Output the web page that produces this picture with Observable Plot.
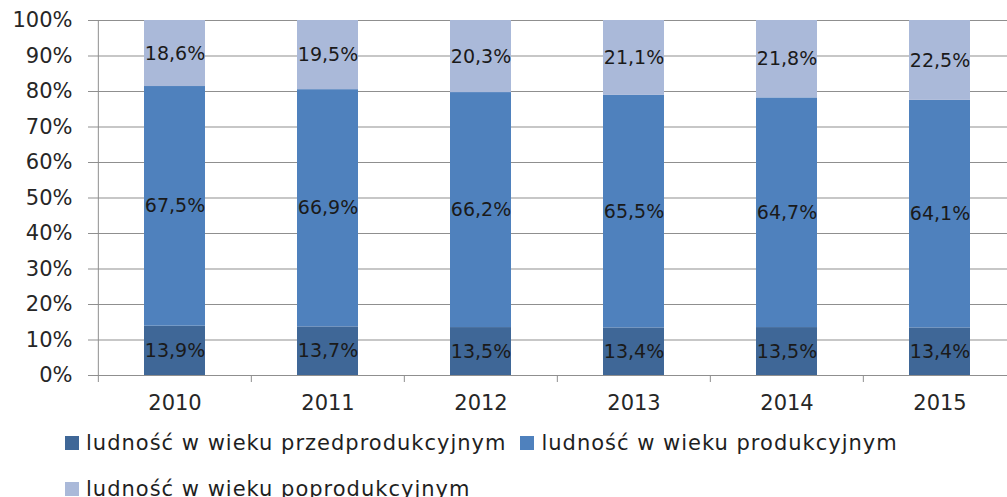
<!DOCTYPE html>
<html>
<head>
<meta charset="utf-8">
<script src="https://cdn.jsdelivr.net/npm/d3@7"></script>
<script src="https://cdn.jsdelivr.net/npm/@observablehq/plot@0.6"></script>
<style>
  html, body { margin: 0; padding: 0; overflow: hidden; background: #fff; width: 1007px; height: 497px; }
  #chart svg { max-width: none !important; display: block; }
  #legend { font-family: "DejaVu Sans", sans-serif; font-size: 21px; letter-spacing: 1px; color: #1f1f1f; padding-left: 65px; width: 900px; display: flex; flex-wrap: wrap; column-gap: 14px; }
  #legend .item { display: flex; align-items: center; height: 46px; }
  #legend .sw { width: 14px; height: 14px; margin-right: 7px; }
</style>
</head>
<body>
<div id="chart"></div>
<div id="legend"></div>
<script>
const years = ["2010", "2011", "2012", "2013", "2014", "2015"];
const seriesNames = ["ludność w wieku przedprodukcyjnym", "ludność w wieku produkcyjnym", "ludność w wieku poprodukcyjnym"];
const preProd = [13.9, 13.7, 13.5, 13.4, 13.5, 13.4];
const prod = [67.5, 66.9, 66.2, 65.5, 64.7, 64.1];
const postProd = [18.6, 19.5, 20.3, 21.1, 21.8, 22.5];
const colors = ["#3f6797", "#4f81bd", "#aab9d9"];
const yTicks = [0, 0.1, 0.2, 0.3, 0.4, 0.5, 0.6, 0.7, 0.8, 0.9, 1];

const seriesValues = [preProd, prod, postProd];
const data = [];
years.forEach((yr, i) => {
  seriesNames.forEach((s, j) => {
    data.push({year: yr, series: s, value: seriesValues[j][i]});
  });
});

const W = 1020, ML = 97, MR = 3;
const step = (W - ML - MR) / years.length;
const fmt = v => v.toFixed(1).replace(".", ",") + "%";
const font = "DejaVu Sans";

const chart = Plot.plot({
  width: W,
  height: 420,
  marginLeft: ML,
  marginRight: MR,
  marginTop: 20,
  marginBottom: 45,
  style: {fontFamily: font, background: "transparent", maxWidth: "none"},
  x: {type: "band", domain: years, paddingInner: 0.6, paddingOuter: 0.3, axis: null},
  y: {domain: [0, 1], axis: null},
  color: {domain: seriesNames, range: colors},
  marks: [
    Plot.gridY(yTicks, {stroke: "#8f8f8f", strokeOpacity: 1, strokeWidth: 1}),
    Plot.axisY(yTicks, {tickFormat: d3.format(".0%"), tickSize: 9, tickPadding: 16, fontSize: 21, stroke: "#8f8f8f", fill: "#262626", label: null}),
    Plot.barY(data, {x: "year", y: "value", fill: "series", order: seriesNames, offset: "normalize"}),
    Plot.text(data, Plot.stackY({x: "year", y: "value", z: "series", order: seriesNames, offset: "normalize", text: d => fmt(d.value), fontSize: 19, letterSpacing: 1, fill: "#1a1a1a"})),
    Plot.ruleY([0], {stroke: "#8f8f8f"}),
    Plot.ruleX([years[0]], {dx: -step / 2, stroke: "#8f8f8f"}),
    Plot.axisX(years, {tickSize: 7, tickFormat: () => "", dx: -step / 2, stroke: "#8f8f8f", label: null}),
    Plot.axisX(years, {tickSize: 0, tickPadding: 20, fontSize: 21, letterSpacing: 2, fill: "#262626", label: null})
  ]
});
document.getElementById("chart").appendChild(chart);

const legend = document.getElementById("legend");
seriesNames.forEach((s, j) => {
  const item = document.createElement("div");
  item.className = "item";
  const sw = document.createElement("span");
  sw.className = "sw";
  sw.style.background = colors[j];
  const t = document.createElement("span");
  t.textContent = s;
  item.appendChild(sw);
  item.appendChild(t);
  legend.appendChild(item);
});
</script>
</body>
</html>
